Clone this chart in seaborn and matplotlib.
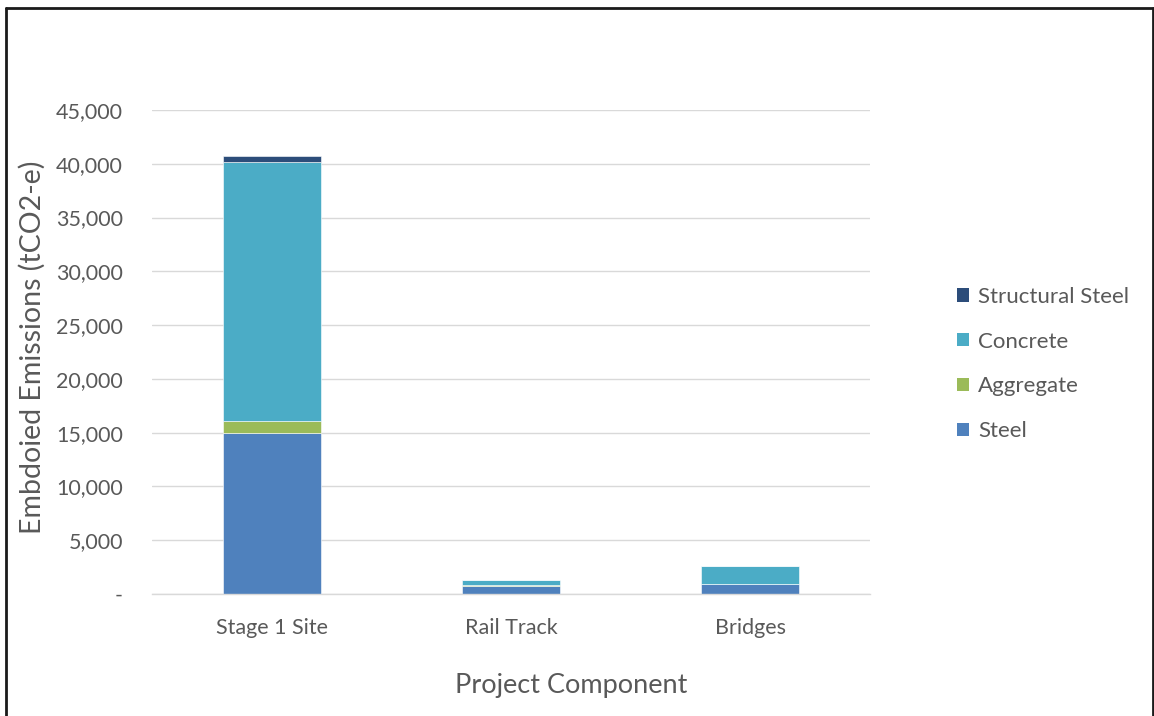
import matplotlib
matplotlib.use("Agg")
import matplotlib.pyplot as plt
from matplotlib.lines import Line2D
from matplotlib.patches import Patch
from matplotlib.ticker import FuncFormatter, MultipleLocator
import pandas as pd
import seaborn as sns

# Embodied emissions by project component (tCO2-e)
components = ["Stage 1 Site", "Rail Track", "Bridges"]
materials = ["Structural Steel", "Concrete", "Aggregate", "Steel"]
steel = [15000, 770, 900]
aggregate = [1100, 40, 0]
concrete = [24100, 460, 1730]
structural_steel = [500, 0, 0]

colors = {
    "Structural Steel": "#2C4D7A",
    "Concrete": "#4BACC6",
    "Aggregate": "#9BBB59",
    "Steel": "#4F81BD",
}

values = {
    "Steel": steel,
    "Aggregate": aggregate,
    "Concrete": concrete,
    "Structural Steel": structural_steel,
}
rows = []
for mat, vals in values.items():
    for comp, v in zip(components, vals):
        rows.append({"component": comp, "material": mat, "value": v})
df = pd.DataFrame(rows)

sns.set_theme(style="white")
plt.rcParams["font.family"] = ["Lato", "DejaVu Sans"]
text_color = "#595959"

fig = plt.figure(figsize=(11.54, 7.16), dpi=100)
ax = fig.add_axes([152 / 1154, 1 - 594 / 716, 718 / 1154, 484 / 716])

# the last hue level sits at the bottom of each stack
sns.histplot(
    data=df, x="component", hue="material", weights="value",
    hue_order=materials, palette=colors, multiple="stack",
    discrete=True, shrink=0.41, alpha=1, edgecolor="white",
    linewidth=0.4, legend=False, ax=ax,
)

ax.set_xlim(-0.5, 2.5)
ax.set_ylim(0, 45000)
ax.yaxis.set_major_locator(MultipleLocator(5000))
ax.yaxis.set_major_formatter(
    FuncFormatter(lambda v, _: "-" if v == 0 else f"{v:,.0f}")
)
ax.set_xticks(range(len(components)))
ax.set_xticklabels(components)
ax.grid(axis="y", color="#D9D9D9", linewidth=1)
ax.set_axisbelow(True)
for side in ["left", "right", "top"]:
    ax.spines[side].set_visible(False)
ax.spines["bottom"].set_color("#D9D9D9")
ax.spines["bottom"].set_linewidth(1)
ax.tick_params(axis="y", length=0, pad=21, labelsize=15.5, labelcolor=text_color)
ax.tick_params(axis="x", length=0, pad=17, labelsize=15.5, labelcolor=text_color)

ax.set_xlabel("Project Component", fontsize=19.5, color=text_color)
ax.set_ylabel("Embdoied Emissions (tCO2-e)", fontsize=20.5, color=text_color)
ax.xaxis.set_label_coords(0.584, -0.164)
ax.yaxis.set_label_coords(-0.148, 0.51)

handles = [Patch(facecolor=colors[m], edgecolor="none") for m in materials]
fig.legend(
    handles, materials, loc="center left",
    bbox_to_anchor=(937 / 1154, 1 - 364 / 716), frameon=False,
    fontsize=16, labelcolor=text_color, handlelength=0.56, handleheight=0.56,
    handletextpad=0.4, labelspacing=1.12,
)

# chart frame (open at the bottom edge)
frame_kw = dict(color="#1a1a1a", linewidth=2, transform=fig.transFigure)
fig.add_artist(Line2D([6 / 1154, 6 / 1154], [0, 1 - 8 / 716], **frame_kw))
fig.add_artist(Line2D([6 / 1154, 1153 / 1154], [1 - 8 / 716, 1 - 8 / 716], **frame_kw))
fig.add_artist(Line2D([1153 / 1154, 1153 / 1154], [0, 1 - 8 / 716], **frame_kw))

fig.savefig("out.png", dpi=100)
